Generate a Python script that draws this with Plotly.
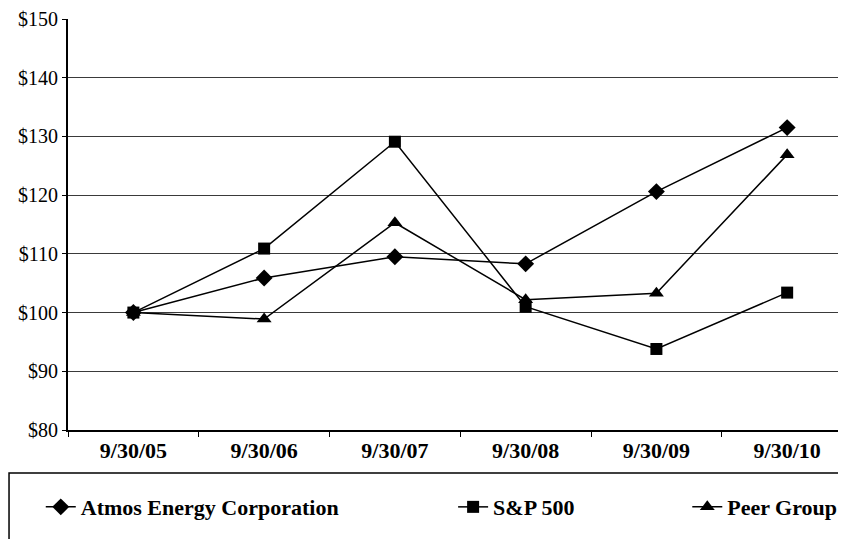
import plotly.graph_objects as go

dates = ["9/30/05", "9/30/06", "9/30/07", "9/30/08", "9/30/09", "9/30/10"]
atmos = [100, 105.9, 109.5, 108.3, 120.6, 131.5]
sp500 = [100, 110.9, 129.1, 101.0, 93.8, 103.4]
peer = [100, 98.9, 115.3, 102.2, 103.3, 126.9]
y_ticks = [80, 90, 100, 110, 120, 130, 140, 150]
y_labels = ["$80", "$90", "$100", "$110", "$120", "$130", "$140", "$150"]

SERIF = "Liberation Serif"

fig = go.Figure()
fig.add_trace(go.Scatter(x=dates, y=atmos, name="Atmos Energy Corporation", mode="lines+markers",
                         line=dict(color="black", width=1.5),
                         marker=dict(symbol="diamond", size=13, color="black"),
                         legend="legend"))
fig.add_trace(go.Scatter(x=dates, y=sp500, name="S&P 500", mode="lines+markers",
                         line=dict(color="black", width=1.5),
                         marker=dict(symbol="square", size=12, color="black"),
                         legend="legend2"))
fig.add_trace(go.Scatter(x=dates, y=peer, name="Peer Group", mode="lines+markers",
                         line=dict(color="black", width=1.5),
                         marker=dict(symbol="triangle-up", size=13, color="black"),
                         legend="legend3"))

legend_common = dict(orientation="h", yanchor="middle", y=-0.1875, xanchor="left",
                     bgcolor="rgba(0,0,0,0)",
                     font=dict(family=SERIF, size=22, color="black", weight="bold"))

fig.update_layout(
    width=838, height=531,
    margin=dict(l=60, r=0, t=11, b=109, autoexpand=False),
    paper_bgcolor="white", plot_bgcolor="white",
    showlegend=True,
    legend=dict(x=-0.035, **legend_common),
    legend2=dict(x=0.495, **legend_common),
    legend3=dict(x=0.796, **legend_common),
    xaxis=dict(
        type="category", range=[-0.5, 5.45],
        showgrid=False, showline=True, linecolor="black", linewidth=2,
        ticks="outside", ticklen=5, tickcolor="black", tickson="boundaries",
        tickfont=dict(family=SERIF, size=22, color="black", weight="bold"),
        automargin=False,
    ),
    yaxis=dict(
        range=[80, 150], tickvals=y_ticks, ticktext=y_labels,
        showgrid=True, gridcolor="#3a3a3a", gridwidth=1,
        showline=True, linecolor="black", linewidth=2,
        ticks="outside", ticklen=4, tickcolor="black",
        tickfont=dict(family=SERIF, size=20, color="black"),
        zeroline=False, automargin=False,
    ),
    shapes=[dict(type="rect", xref="paper", yref="paper",
                 x0=-0.0758, x1=1.02, y0=-0.1046, y1=-0.30,
                 line=dict(color="black", width=1.5), fillcolor="rgba(0,0,0,0)")],
)

fig.write_html("out.html")
